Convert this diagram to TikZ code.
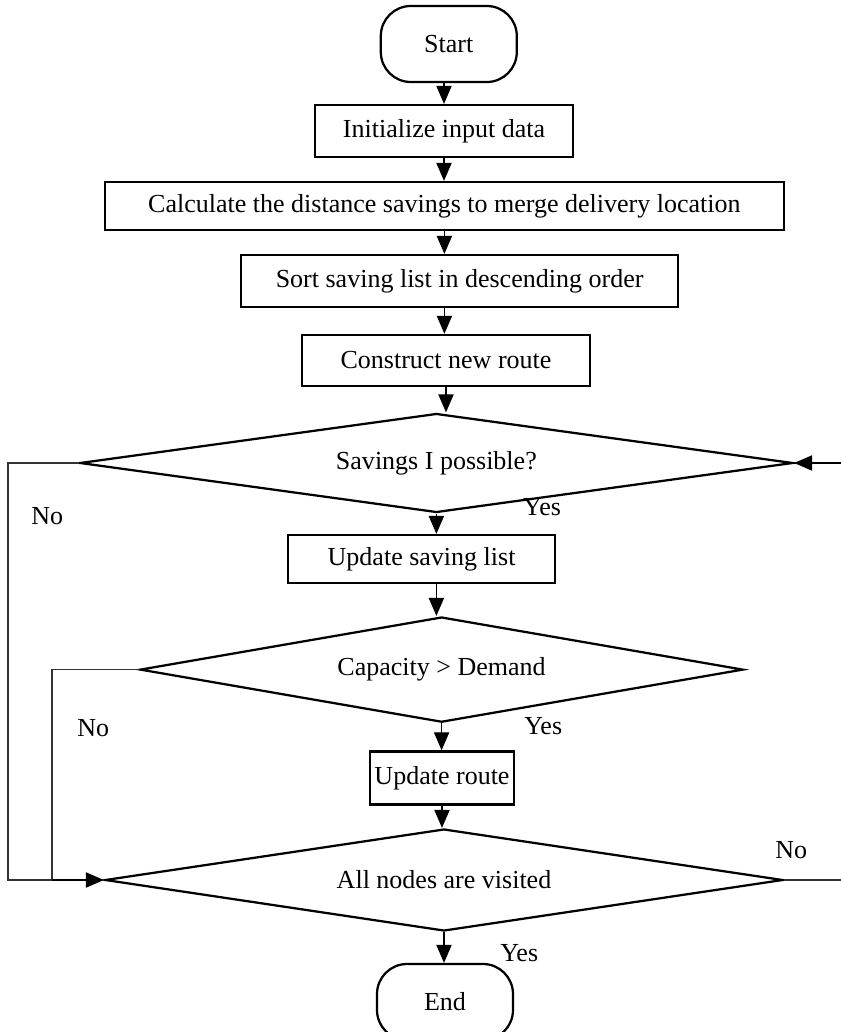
\documentclass[tikz,border=0pt]{standalone}
\usepackage{fontspec}
\setmainfont{Liberation Serif}
\usetikzlibrary{shapes.geometric,arrows.meta}

\begin{document}
\begin{tikzpicture}[
  font=\fontsize{18.5}{22}\selectfont,
  blocco/.style={draw,line width=1.6pt,inner sep=0pt},
  termine/.style={draw,line width=1.6pt,rounded corners=0.75cm,minimum width=3.4cm,minimum height=1.9cm},
  scelta/.style={draw,diamond,line width=1.6pt,inner sep=0pt},
  freccia/.style={-{Triangle[length=0.45cm,width=0.38cm]},line width=1pt},
  ritorno/.style={line width=1pt,black!80}]
\useasboundingbox (0,0) rectangle (21,-25.8);
% Nodo start
\draw(11.22,-1.1)node[termine](node start){Start}
     % Nodo dati iniziali
     (11.1,-3.275)node[blocco,minimum width=6.45cm,minimum height=1.3cm](node init){Initialize input data}
     % Nodo calcolo savings
     (11.11,-5.15)node[blocco,minimum width=16.98cm,minimum height=1.2cm](node calc){Calculate the distance savings to merge delivery location}
     % Nodo ordinamento
     (11.49,-7.025)node[blocco,minimum width=10.93cm,minimum height=1.3cm](node sort){Sort saving list in descending order}
     % Nodo nuova route
     (11.15,-9.01)node[blocco,minimum width=7.2cm,minimum height=1.275cm](node constr){Construct new route}
     % Rombo savings
     (10.91,-11.575)node[scelta,aspect=7.2,minimum width=17.83cm,minimum height=2.475cm](node savings){Savings I possible?}
     % Nodo aggiorna lista
     (10.54,-13.975)node[blocco,minimum width=6.68cm,minimum height=1.2cm](node updsav){Update saving list}
     % Rombo capacita
     (11.04,-16.74)node[scelta,aspect=5.73,minimum width=15.08cm,minimum height=2.63cm](node capacity){Capacity > Demand}
     % Nodo aggiorna route
     (11.05,-19.45)node[blocco,minimum width=3.6cm,minimum height=1.33cm](node updroute){Update route}
     % Rombo nodi visitati
     (11.1,-22.0)node[scelta,aspect=6.65,minimum width=16.95cm,minimum height=2.55cm](node allnodes){All nodes are visited}
     % Nodo end
     (11.125,-25.05)node[termine](node end){End};

% Frecce verticali
\draw[freccia](node init.north |- node start.south)--(node init.north);
\draw[freccia](node init.south)--(node init.south |- node calc.north);
\draw[freccia](node calc.south)--(node calc.south |- node sort.north);
\draw[freccia](node calc.south |- node sort.south)--(node calc.south |- node constr.north);
\draw[freccia](node constr.south)--(node constr.south |- node savings.north);
\draw[freccia](node savings.south)--(node savings.south |- node updsav.north);
\draw[freccia](node savings.south |- node updsav.south)--(node savings.south |- node capacity.north);
\draw[freccia](node capacity.south)--(node capacity.south |- node updroute.north);
\draw[freccia](node updroute.south)--(node updroute.south |- node allnodes.north);
\draw[freccia](node allnodes.south)--(node allnodes.south |- node end.north);

% Giri di ritorno
\coordinate(giro ovest) at (0.2,0);
\coordinate(giro interno) at (1.3,0);
\coordinate(giro est) at (21.4,0);
\draw[ritorno](node savings.west)--(giro ovest |- node savings.west)--(giro ovest |- node allnodes.west)--(node allnodes.west);
\draw[ritorno](node capacity.west)--(giro interno |- node capacity.west)--(giro interno |- node allnodes.west);
\draw[freccia](giro interno |- node allnodes.west)--(node allnodes.west);
\draw[ritorno](node allnodes.east)--(giro est |- node allnodes.east)--(giro est |- node savings.east);
\draw[freccia](giro est |- node savings.east)--(node savings.east);

% Etichette
\node(no uno) at (1.18,-12.9){No};
\node(yes uno) at (13.55,-12.68){Yes};
\node(no due) at (2.33,-18.2){No};
\node(yes due) at (13.58,-18.15){Yes};
\node(no tre) at (19.78,-21.25){No};
\node(yes tre) at (12.98,-23.83){Yes};
\end{tikzpicture}
\end{document}
